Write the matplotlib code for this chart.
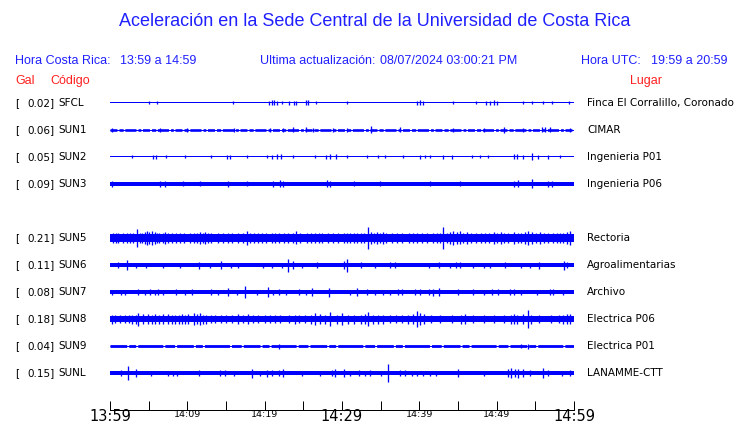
import numpy as np
import matplotlib
matplotlib.use('Agg')
import matplotlib.pyplot as plt
from matplotlib.transforms import offset_copy

# station info
codes = ['SFCL', 'SUN1', 'SUN2', 'SUN3', 'SUN5', 'SUN6', 'SUN7', 'SUN8', 'SUN9', 'SUNL']
gal = [0.02, 0.06, 0.05, 0.09, 0.21, 0.11, 0.08, 0.18, 0.04, 0.15]
places = ['Finca El Corralillo, Coronado', 'CIMAR', 'Ingenieria P01', 'Ingenieria P06',
          'Rectoria', 'Agroalimentarias', 'Archivo', 'Electrica P06', 'Electrica P01',
          'LANAMME-CTT']
rows = [0, 1, 2, 3, 5, 6, 7, 8, 9, 10]   # row 4 left empty (SUN4 missing)

# baseline half-width of each trace (amplitude counts, ~1 count per pixel)
base_amp = [0.5, 1.3, 0.5, 2.0, 3.8, 2.0, 1.7, 3.2, 1.4, 2.0]

# spikes: (minute after 13:59, half amplitude)
spikes = {
    'SFCL': [(5.05, 1.5), (6.04, 1.5), (15.95, 1.5), (20.6, 2), (20.9, 2.5), (21.2, 2.5),
             (21.6, 2), (22.3, 1.5), (23.1, 2), (23.8, 2), (24.1, 2), (25.4, 2.5),
             (25.65, 2.5), (26.6, 1.5), (30.7, 1.5), (39.7, 2), (40.1, 2.5), (40.5, 2),
             (44.3, 1.5), (47.3, 1.5), (48.6, 2), (49.1, 2), (49.6, 2.5), (50.0, 2),
             (53.4, 1.5), (54.6, 1.5), (56.0, 1.5), (57.2, 1.5), (59.3, 1.5)],
    'SUN1': [(0.2, 2), (6.5, 2), (9.9, 2), (16.0, 2), (20.7, 2), (22.4, 2), (23.7, 2.5),
             (25.4, 2.5), (26.3, 2), (28.9, 2), (30.6, 2), (33.8, 3.5), (37.5, 2.5),
             (44.4, 2), (48.3, 2), (50.9, 3), (53.4, 2), (55.8, 2.5), (56.3, 2.5),
             (56.9, 2.5), (59.5, 2)],
    'SUN2': [(2.8, 1.5), (5.6, 2), (6.0, 2), (7.3, 1.5), (9.7, 1.5), (13.0, 1.5), (15.1, 2),
             (15.5, 2), (17.7, 1.5), (20.3, 1.5), (21.0, 2), (21.6, 2.5), (22.1, 2.5),
             (23.7, 1.5), (26.5, 1.5), (27.9, 2), (28.5, 2.5), (29.2, 2.5), (30.7, 1.5),
             (33.2, 1.5), (34.7, 1.5), (35.6, 1.5), (37.9, 1.5), (40.1, 2), (40.7, 1.5),
             (41.4, 1.5), (43.1, 2), (44.2, 2), (46.8, 1.5), (47.8, 1.5), (48.9, 1.5),
             (52.2, 2.5), (52.6, 2.5), (53.4, 2), (54.6, 3.5), (55.4, 2), (56.7, 2),
             (58.2, 1.5)],
    'SUN3': [(0.2, 3), (6.5, 3), (7.1, 3), (9.5, 2.5), (11.6, 2.5), (15.3, 3), (17.7, 2.5),
             (21.1, 3), (22.0, 3.5), (22.4, 3), (28.0, 3.5), (28.5, 3), (31.5, 2.5),
             (34.9, 2.5), (41.4, 2.5), (45.3, 2.5), (52.2, 3), (52.8, 3.5), (54.6, 4.5),
             (56.7, 3), (57.1, 3)],
    'SUN5': [(0.43, 4.5), (0.8, 5), (1.0, 4.5), (1.72, 4.5), (2.2, 5), (2.6, 5), (3.0, 5.5),
             (3.53, 9), (3.9, 5.5), (4.2, 5.5), (4.5, 6), (4.74, 7), (5.1, 6), (5.38, 7),
             (5.8, 6), (6.1, 5.5), (6.4, 5), (6.8, 5.5), (7.1, 6), (7.5, 5), (8.0, 5),
             (8.5, 4.5), (9.05, 5), (9.6, 4.5), (10.3, 4.5), (10.9, 5), (11.3, 5.5),
             (11.6, 6), (12.0, 5.5), (12.3, 6), (12.7, 5.5), (13.1, 5.5), (14.0, 5),
             (14.6, 4.5), (15.2, 5), (15.8, 4.5), (16.6, 5.5), (17.2, 5), (17.7, 7),
             (18.1, 5.5), (18.6, 4.5), (19.2, 5), (19.6, 5), (20.2, 5), (20.9, 5.5),
             (21.4, 5), (21.8, 5), (22.5, 5), (23.0, 4.5), (23.6, 5.5), (24.1, 6.5),
             (24.6, 5), (25.5, 4.5), (26.0, 5), (26.5, 5), (27.0, 5.5), (27.4, 5),
             (28.2, 4.5), (28.8, 4.5), (29.5, 5), (30.2, 4.5), (30.6, 5.5), (31.0, 5.5),
             (31.5, 5), (32.0, 5.5), (32.4, 4.5), (32.9, 5.5), (33.4, 10.5), (33.8, 6),
             (34.1, 5.5), (34.5, 6), (34.9, 5.5), (35.3, 6), (35.7, 5), (36.5, 4.5),
             (37.1, 4.5), (37.8, 4.5), (38.6, 4.5), (39.2, 4.5), (39.7, 4.5), (40.4, 4.5),
             (41.0, 4.5), (41.8, 5), (42.3, 5), (42.7, 5), (43.1, 11), (43.6, 5.5),
             (44.0, 6), (44.4, 7), (44.9, 6), (45.3, 6.5), (45.7, 5.5), (46.1, 6),
             (46.7, 5), (47.3, 4.5), (48.0, 5), (48.5, 5), (49.0, 5.5), (49.6, 6),
             (50.1, 5.5), (50.5, 6), (50.9, 5.5), (51.5, 5.5), (52.2, 6), (52.7, 5.5),
             (53.2, 5), (53.7, 6), (54.1, 7), (54.6, 6), (55.1, 5.5), (55.6, 6),
             (56.1, 5.5), (56.7, 5), (57.3, 5.5), (57.8, 5), (58.2, 5.5), (58.6, 5.5),
             (59.1, 6), (59.5, 7)],
    'SUN6': [(1.0, 3), (2.2, 5), (3.4, 2.5), (4.7, 2.5), (6.9, 2.5), (9.05, 2.5), (11.5, 3.5),
             (12.9, 2.5), (14.3, 4), (15.7, 2.5), (16.6, 2.5), (19.8, 2.5), (20.9, 2.5),
             (22.2, 2.5), (23.06, 6.5), (23.7, 4), (24.8, 2.5), (26.8, 3), (30.2, 4),
             (30.7, 6.5), (32.5, 3), (34.3, 2.5), (36.2, 3), (36.9, 3), (41.2, 2.5),
             (42.5, 3), (44.0, 2.5), (44.8, 3), (45.3, 3), (47.0, 2.5), (48.3, 2.5),
             (49.1, 2.5), (51.1, 3), (53.2, 2.5), (54.3, 2.5), (55.5, 3.5), (58.7, 4.5),
             (59.1, 3)],
    'SUN7': [(0.21, 2.5), (1.42, 2.5), (2.0, 2.5), (3.57, 3), (4.5, 2.5), (5.2, 3), (5.8, 2.5),
             (6.25, 3), (6.9, 2.5), (8.5, 3), (9.7, 2.5), (10.6, 3), (13.06, 3), (14.0, 2.5),
             (15.2, 4), (16.4, 2.5), (17.5, 6), (19.0, 2.5), (20.4, 5), (21.1, 2.5),
             (21.8, 3), (22.8, 2.5), (24.4, 3), (25.4, 2.5), (26.1, 4), (28.3, 4.5),
             (31.0, 2.5), (31.9, 4), (33.2, 3), (34.3, 2.5), (35.3, 2.5), (36.2, 2.5),
             (37.3, 3), (37.7, 3), (39.4, 3), (40.1, 3), (41.2, 3), (41.8, 3.5), (42.5, 4),
             (45.0, 3), (47.0, 3), (48.3, 2.5), (49.4, 3), (50.2, 3), (51.7, 3), (52.2, 3),
             (53.2, 2.5), (55.2, 2.5), (56.9, 3), (57.3, 3), (58.6, 2.5)],
    'SUN8': [(0.21, 4.5), (0.64, 4), (1.3, 4), (1.9, 4), (2.4, 4), (2.8, 4.5), (3.3, 4.5),
             (3.66, 6.5), (4.3, 5), (4.95, 5), (5.4, 4.5), (5.8, 5), (6.4, 4.5), (6.9, 5),
             (7.5, 5), (8.0, 4.5), (8.4, 4.5), (8.9, 4.5), (9.3, 5), (9.7, 4.5), (10.1, 5),
             (10.8, 6), (11.2, 5), (11.6, 6), (12.0, 4.5), (12.4, 4.5), (13.1, 4),
             (13.6, 4), (14.3, 4), (15.0, 4), (15.8, 4), (16.6, 5), (17.2, 4), (17.9, 5),
             (18.5, 4), (19.2, 4), (20.0, 4), (20.7, 4), (21.4, 4), (22.0, 4), (23.2, 4),
             (23.9, 4.5), (24.5, 4), (25.2, 4), (26.0, 4.5), (26.5, 6), (27.1, 5),
             (27.8, 4.5), (28.4, 7), (29.3, 4.5), (30.0, 6), (30.8, 4.5), (31.5, 4.5),
             (32.4, 4.5), (33.0, 5), (33.4, 7), (34.0, 4.5), (34.6, 4.5), (35.3, 4.5),
             (36.2, 4), (37.0, 4), (37.8, 4), (38.5, 4.5), (39.2, 5), (39.7, 8),
             (40.1, 6), (40.6, 5), (41.5, 4), (42.7, 4), (44.2, 4), (45.4, 4.5),
             (45.9, 5), (47.0, 4), (48.4, 4), (49.6, 4), (51.0, 4), (51.8, 4.5),
             (52.2, 5), (52.6, 4.5), (53.4, 5), (54.0, 9), (54.4, 4.5), (55.5, 4),
             (57.0, 4), (58.0, 4), (58.6, 4.5), (59.1, 5), (59.5, 5)],
    'SUN9': [(21.8, 2.5), (53.2, 2), (54.0, 2.5)],
    'SUNL': [(1.42, 3), (2.37, 7), (3.3, 4), (5.25, 2.5), (7.5, 2.5), (8.2, 2.5), (8.6, 2.5),
             (11.5, 3), (14.2, 3), (14.9, 3), (16.0, 2.5), (18.3, 4.5), (19.4, 2.5),
             (20.3, 3.5), (20.9, 3), (21.8, 3), (22.4, 4), (24.8, 2.5), (27.1, 2.5),
             (28.7, 3), (29.1, 4), (30.2, 4), (31.0, 2.5), (32.2, 3), (33.0, 2.5),
             (33.6, 3), (35.1, 2.5), (35.9, 9), (37.5, 3), (38.1, 3), (39.0, 2.5),
             (39.7, 2.5), (40.5, 2.5), (41.4, 2.5), (42.2, 2.5), (45.0, 4), (48.3, 2.5),
             (51.5, 4), (51.9, 5), (52.4, 4), (52.8, 4.5), (53.4, 4), (54.3, 3),
             (56.0, 5), (56.7, 3), (58.5, 2.5), (59.5, 3)],
}

tick_minutes = np.arange(0, 61, 5)
shown_labels = ['13:59', '', '14:09', '', '14:19', '', '14:29', '', '14:39', '', '14:49', '', '14:59']
big_labels = ['13:59', '14:29', '14:59']

plt.rcParams['lines.scale_dashes'] = False

BLUE = '#0000ff'
TBLUE = '#2020ff'
RED = '#ff2020'
W, H = 740, 423
px = 72.0 / 100   # one pixel in points
ROW_PX = 27.0

fig = plt.figure(figsize=(W / 100, H / 100), dpi=100)
fig.patch.set_facecolor('white')

# traces axes: x = minutes, y = row index (one row = 27 px)
ax = fig.add_axes([110 / W, 1 - 386.5 / H, 464 / W, 297 / H])
ax.set_xlim(0, 60)
ax.set_ylim(10.5, -0.5)
ax.axis('off')

for i, code in enumerate(codes):
    r = rows[i]
    b = base_amp[i] / ROW_PX
    if code in ('SUN1', 'SUN9'):
        # segmented look: thin line under dashed thick one
        ax.plot([0, 60], [r, r], color=BLUE, lw=1.0 * px, solid_capstyle='butt')
        if code == 'SUN1':
            pat = (5, 1.5, 3, 1.2, 8, 1.5, 2, 1.2)
        else:
            pat = (12, 1.5, 5, 1.5, 18, 1.5, 7, 1.5)
        ax.plot([0, 60], [r, r], color=BLUE, lw=2 * base_amp[i] * px,
                dashes=pat, solid_capstyle='butt', dash_capstyle='butt')
    else:
        ax.fill_between([0, 60], r - max(b, 0.5 / ROW_PX), r + max(b, 0.5 / ROW_PX),
                        color=BLUE, lw=0)
    t = [s[0] for s in spikes[code]]
    a = np.array([s[1] for s in spikes[code]]) / ROW_PX
    ax.vlines(t, r - a, r + a, color=BLUE, lw=1.3 * px)

    # left labels and right place names
    ax.text(-95 / 464 * 60, r, '[', ha='left', va='center', fontsize=7.5,
            family='DejaVu Sans', color='black')
    ax.text(-55 / 464 * 60, r, '%.2f]' % gal[i], ha='right', va='center', fontsize=7.5,
            family='DejaVu Sans', color='black')
    ax.text(-52 / 464 * 60, r, code, ha='left', va='center', fontsize=7.5,
            family='DejaVu Sans', color='black')
    ax.text(60 + 13 / 464 * 60, r, places[i], ha='left', va='center', fontsize=7.5,
            family='DejaVu Sans', color='black')

# time axis
ax2 = fig.add_axes([110 / W, 1 - 409.5 / H, 464 / W, 5 / H])
ax2.set_xlim(0, 60)
ax2.patch.set_visible(False)
for s in ['top', 'left', 'right']:
    ax2.spines[s].set_visible(False)
ax2.spines['bottom'].set_linewidth(1.0 * px)
ax2.set_yticks([])
ax2.set_xticks(tick_minutes)
ax2.set_xticklabels([])
ax2.tick_params(axis='x', direction='in', length=9 * px, width=1.0 * px)
for m, lab in zip(tick_minutes, shown_labels):
    if not lab:
        continue
    big = lab in big_labels
    tr = offset_copy(ax2.get_xaxis_transform(), fig=fig,
                     y=-(6.5 if big else 4.5) * px, units='points')
    ax2.text(m, 0, lab, transform=tr, ha='center', va='center',
             fontsize=10.5 if big else 6.8, family='DejaVu Sans', color='black')

# title and header
sans = 'Liberation Sans'
fig.text(375 / W, 1 - 22 / H, 'Aceleración en la Sede Central de la Universidad de Costa Rica',
         ha='center', va='center', fontsize=13, color=TBLUE, family=sans)
hy = 1 - 61 / H
fig.text(15 / W, hy, 'Hora Costa Rica:', ha='left', va='center', fontsize=9, color=TBLUE, family=sans)
fig.text(120 / W, hy, '13:59 a 14:59', ha='left', va='center', fontsize=9, color=TBLUE, family=sans)
fig.text(260 / W, hy, 'Ultima actualización:', ha='left', va='center', fontsize=9, color=TBLUE, family=sans)
fig.text(380 / W, hy, '08/07/2024 03:00:21 PM', ha='left', va='center', fontsize=9, color=TBLUE, family=sans)
fig.text(581 / W, hy, 'Hora UTC:', ha='left', va='center', fontsize=9, color=TBLUE, family=sans)
fig.text(651 / W, hy, '19:59 a 20:59', ha='left', va='center', fontsize=9, color=TBLUE, family=sans)
ry = 1 - 81 / H
fig.text(15 / W, ry, 'Gal', ha='left', va='center', fontsize=9, color=RED, family=sans)
fig.text(50 / W, ry, 'Código', ha='left', va='center', fontsize=9, color=RED, family=sans)
fig.text(630 / W, ry, 'Lugar', ha='left', va='center', fontsize=9, color=RED, family=sans)

fig.savefig('out.png', dpi=100, facecolor='white')
